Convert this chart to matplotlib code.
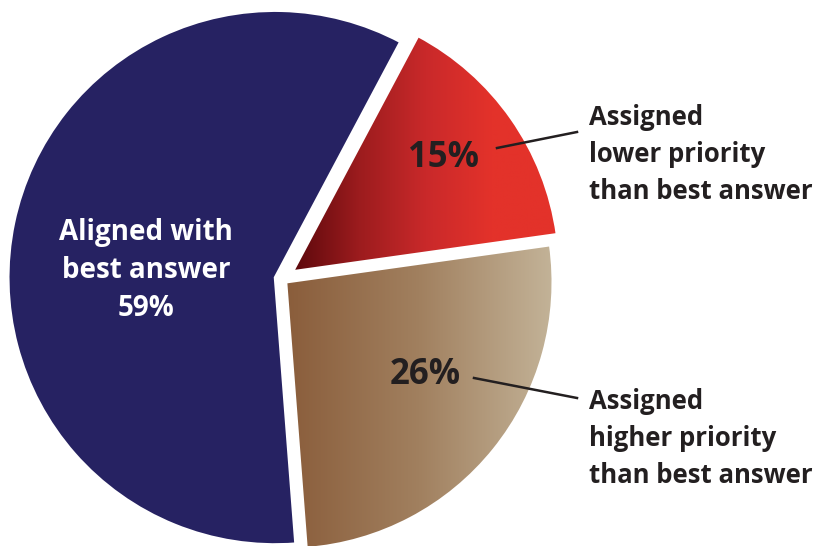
import numpy as np
import matplotlib.pyplot as plt
from matplotlib.colors import LinearSegmentedColormap

# data (drawn clockwise starting at the navy/red boundary)
categories = ["Assigned lower priority than best answer",
              "Assigned higher priority than best answer",
              "Aligned with best answer"]
shares = [15, 26, 59]
pct_labels = ["15%", "26%", "59%"]

W, H = 817, 546
fig = plt.figure(figsize=(W / 100, H / 100), dpi=100)
ax = fig.add_axes([0, 0, 1, 1])

def py(y):
    # pixel row -> data y
    return H - y

FONT = ["Open Sans", "DejaVu Sans"]
DARK = "#231f20"

# explode is in data units (pixels here) because radius != 1
cx, cy, r = 282, py(279), 267
wedges, _ = ax.pie(shares, startangle=62, counterclock=False,
                   center=(cx, cy), radius=r,
                   explode=[13, 5, 7],
                   colors=["#e3322a", "#a8876a", "#262262"],
                   wedgeprops=dict(edgecolor="white", linewidth=2),
                   frame=True)

# horizontal gradients for the red and tan slices
grads = {
    0: LinearSegmentedColormap.from_list("red", ["#5c080c", "#9c1c1e", "#c9292a", "#e3322a", "#e3322a"]),
    1: LinearSegmentedColormap.from_list("tan", ["#8a5d3b", "#a1805f", "#c3b398"]),
}
ramp = np.linspace(0, 1, 256).reshape(1, -1)
for i, cmap in grads.items():
    w = wedges[i]
    w.set_facecolor("none")
    w.set_zorder(3)
    bb = w.get_path().get_extents(w.get_transform() - ax.transData)
    im = ax.imshow(ramp, cmap=cmap, aspect="auto",
                   extent=[bb.x0, bb.x1, bb.y0, bb.y1], zorder=2)
    im.set_clip_path(w)
wedges[2].set_zorder(3)

ax.set_xlim(0, W)
ax.set_ylim(0, H)
ax.set_aspect("equal")
ax.axis("off")

# labels inside slices
for line, y in zip(["Aligned with", "best answer", pct_labels[2]], [240, 278, 316]):
    ax.text(146, py(y), line, color="white", fontsize=20, fontweight="bold",
            family=FONT, ha="center", va="baseline", zorder=5)
ax.text(444, py(167), pct_labels[0], color=DARK, fontsize=25, fontweight="bold",
        family=FONT, ha="center", va="baseline", zorder=5)
ax.text(425, py(384), pct_labels[1], color=DARK, fontsize=25, fontweight="bold",
        family=FONT, ha="center", va="baseline", zorder=5)

# outside labels with leader lines
outside = [
    (["Assigned", "lower priority", "than best answer"], 125, (497, 148), (577, 132)),
    (["Assigned", "higher priority", "than best answer"], 409, (474, 378), (577, 398)),
]
for lines, y0, p0, p1 in outside:
    for k, line in enumerate(lines):
        ax.text(589, py(y0 + 37 * k), line, color=DARK, fontsize=18.5,
                fontweight="bold", family=FONT, ha="left", va="baseline", zorder=5)
    ax.plot([p0[0], p1[0]], [py(p0[1]), py(p1[1])], color=DARK, lw=1.8, zorder=5)

fig.savefig("out.png", dpi=100)
